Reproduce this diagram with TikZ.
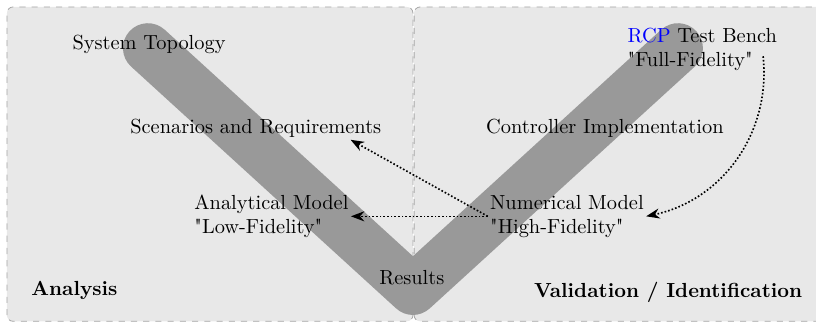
\documentclass[tikz,border=0pt]{standalone}
\usepackage{fontspec}
\setmainfont{lmroman10-regular.otf}[BoldFont=lmroman10-bold.otf,ItalicFont=lmroman10-italic.otf,Ligatures=TeXOff]
\usepackage{tikz}
\usetikzlibrary{arrows.meta,calc,positioning}
\usepackage{xcolor}
\definecolor{Panel}{RGB}{232,232,232}
\definecolor{Vgray}{RGB}{153,153,153}

\begin{document}
\begin{tikzpicture}[every node/.style={inner sep=1pt}]
\useasboundingbox (0,0) rectangle (14.07,5.57);
\clip (0,0) rectangle (14.07,5.57);
%
% background panels
\draw[gray!70,dashed,rounded corners=3pt,fill=Panel] (0.12,0.03) rectangle (7.12,5.45);
\draw[gray!70,dashed,rounded corners=3pt,fill=Panel] (7.14,0.03) rectangle (14.3,5.45);
%
% the V
\draw[Vgray,line width=0.86cm,line cap=round,line join=round] (2.55,4.74) -- (7.12,0.57) -- (11.69,4.74);
%
\node (topo) at (2.57,4.81) {System Topology};
\node (scen) at (4.41,3.36) {Scenarios and Requirements};
\node[anchor=west,align=left] (ana) at (3.31,1.84) {Analytical Model\\"Low-Fidelity"};
\node (res) at (7.10,0.79) {Results};
\node[anchor=west,align=left] (num) at (8.41,1.84) {Numerical Model\\"High-Fidelity"};
\node (ctrl) at (10.43,3.36) {Controller Implementation};
\node[anchor=west,align=left] (rcp) at (10.78,4.72) {\textcolor{blue}{RCP} Test Bench\\"Full-Fidelity"};
\node[anchor=west] (an) at (0.50,0.57) {\textbf{Analysis}};
\node (val) at (11.52,0.52) {\textbf{Validation / Identification}};
%
% model links
\draw[-Stealth,thick,densely dotted] (num.west) -- (ana.east);
\draw[-Stealth,thick,densely dotted] (num.west) -- ([xshift=-5.7mm]scen.south east);
\draw[-Stealth,thick,densely dotted] ([xshift=-2.8mm,yshift=-1.2mm]rcp.east) to[out=-84,in=12] (num.east);
%
\end{tikzpicture}
\end{document}
